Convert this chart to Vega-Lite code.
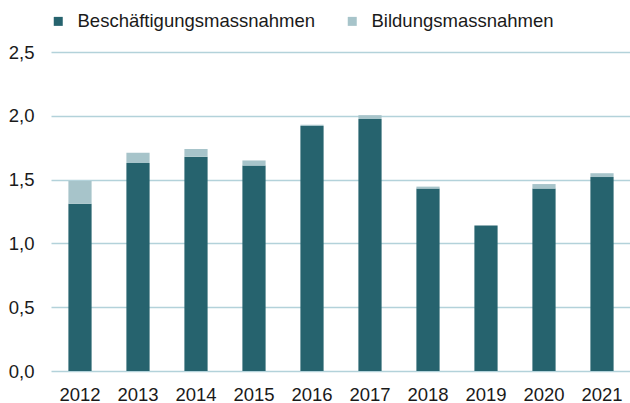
{
  "$schema": "https://vega.github.io/schema/vega-lite/v6.json",
  "width": 580,
  "height": 319,
  "autosize": {"type": "none"},
  "padding": {"left": 51, "top": 52, "right": 0, "bottom": 32},
  "background": "white",
  "data": {"values": [
    {"Jahr": "2012", "Art": "Beschäftigungsmassnahmen", "Wert": 1.31},
    {"Jahr": "2012", "Art": "Bildungsmassnahmen", "Wert": 0.18},
    {"Jahr": "2013", "Art": "Beschäftigungsmassnahmen", "Wert": 1.63},
    {"Jahr": "2013", "Art": "Bildungsmassnahmen", "Wert": 0.08},
    {"Jahr": "2014", "Art": "Beschäftigungsmassnahmen", "Wert": 1.68},
    {"Jahr": "2014", "Art": "Bildungsmassnahmen", "Wert": 0.06},
    {"Jahr": "2015", "Art": "Beschäftigungsmassnahmen", "Wert": 1.61},
    {"Jahr": "2015", "Art": "Bildungsmassnahmen", "Wert": 0.04},
    {"Jahr": "2016", "Art": "Beschäftigungsmassnahmen", "Wert": 1.92},
    {"Jahr": "2016", "Art": "Bildungsmassnahmen", "Wert": 0.01},
    {"Jahr": "2017", "Art": "Beschäftigungsmassnahmen", "Wert": 1.975},
    {"Jahr": "2017", "Art": "Bildungsmassnahmen", "Wert": 0.03},
    {"Jahr": "2018", "Art": "Beschäftigungsmassnahmen", "Wert": 1.43},
    {"Jahr": "2018", "Art": "Bildungsmassnahmen", "Wert": 0.015},
    {"Jahr": "2019", "Art": "Beschäftigungsmassnahmen", "Wert": 1.14},
    {"Jahr": "2019", "Art": "Bildungsmassnahmen", "Wert": 0.0},
    {"Jahr": "2020", "Art": "Beschäftigungsmassnahmen", "Wert": 1.43},
    {"Jahr": "2020", "Art": "Bildungsmassnahmen", "Wert": 0.035},
    {"Jahr": "2021", "Art": "Beschäftigungsmassnahmen", "Wert": 1.52},
    {"Jahr": "2021", "Art": "Bildungsmassnahmen", "Wert": 0.03}
  ]},
  "mark": {"type": "bar"},
  "encoding": {
    "x": {
      "field": "Jahr", "type": "nominal",
      "scale": {"paddingInner": 0.6, "paddingOuter": 0.3},
      "axis": {"title": null, "labelAngle": 0, "ticks": false, "domain": false,
               "labelFont": "Liberation Sans", "labelFontSize": 18.5, "labelColor": "#1a1a1a", "labelPadding": 14}
    },
    "y": {
      "field": "Wert", "type": "quantitative", "stack": "zero",
      "scale": {"domain": [0, 2.5]},
      "axis": {"title": null, "values": [0, 0.5, 1, 1.5, 2, 2.5], "ticks": false, "domain": false,
               "labelExpr": "replace(format(datum.value, '.1f'), '.', ',')",
               "labelFont": "Liberation Sans", "labelFontSize": 18.5, "labelColor": "#1a1a1a", "labelPadding": 17,
               "gridColor": "#b3d2da", "gridWidth": 1.5}
    },
    "order": {"field": "Art", "sort": "ascending"},
    "color": {
      "field": "Art", "type": "nominal",
      "scale": {"domain": ["Beschäftigungsmassnahmen", "Bildungsmassnahmen"], "range": ["#26636e", "#a7c4ca"]},
      "legend": {"title": null, "orient": "none", "direction": "horizontal", "legendX": -2, "legendY": -40,
                 "symbolType": "square", "symbolSize": 81, "symbolStrokeWidth": 0, "labelLimit": 400,
                 "labelFont": "Liberation Sans", "labelFontSize": 18.5, "labelColor": "#1a1a1a",
                 "columnPadding": 27, "labelOffset": 10}
    }
  },
  "config": {"view": {"stroke": null}}
}
